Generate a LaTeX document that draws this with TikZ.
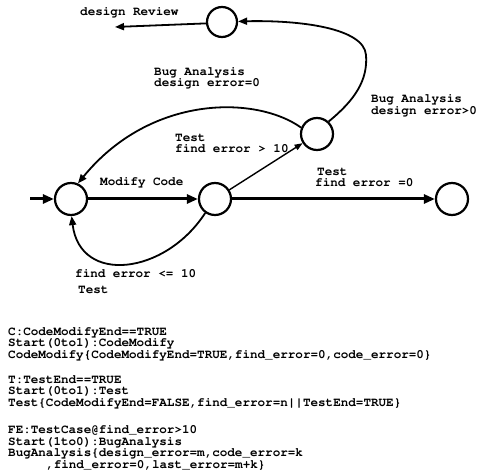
\documentclass[tikz,border=0pt]{standalone}
\usepackage[T1]{fontenc}
\usetikzlibrary{arrows.meta}
\begin{document}
\begin{tikzpicture}[x=1pt,y=-1pt,
  state/.style={draw, circle, line width=2.2pt, minimum size=32pt, inner sep=0pt},
  lbl/.style={font=\fontfamily{pcr}\bfseries\fontsize{12.6}{11.5}\selectfont, inner sep=0pt, align=left, anchor=west},
  thickarrow/.style={line width=3pt, -{Triangle[length=11pt,width=9pt]}},
  curvearrow/.style={line width=1.8pt, -{Triangle[length=9pt,width=7pt]}},
  thinarrow/.style={line width=1.4pt, -{Triangle[length=8pt,width=6pt]}}]
\useasboundingbox (0,0) rectangle (477,476);
% states
\node[state, minimum size=30pt] (top) at (222,22) {};
\node[state] (left) at (71,199) {};
\node[state] (mid) at (215,199) {};
\node[state] (right) at (452,199) {};
\node[state] (up) at (317,134) {};
\coordinate (in) at (30,199);
\coordinate (out) at (115,27);
% connectors
\draw[thickarrow] (in) -- (left);
\draw[thickarrow] (left) -- (mid);
\draw[thickarrow] (mid) -- (right);
\draw[thinarrow] (mid) -- (up);
\draw[curvearrow] (up.158) .. controls (255,95) and (150,95) .. (left.66);
\draw[curvearrow] (up.47) .. controls (355,100) and (368,80) .. (366,55) .. controls (364,28) and (300,20) .. (top.2);
\draw[curvearrow] (top.185) -- (out);
\draw[curvearrow] (mid.235) .. controls (165,275) and (80,285) .. (left.272);
% labels
\node[lbl] (l1) at (80,12) {design Review};
\node[lbl] (l2) at (154,77.5) {Bug Analysis\\design error=0};
\node[lbl] (l3) at (371,105) {Bug Analysis\\design error>0};
\node[lbl] (l4) at (175,143.5) {Test\\find error > 10};
\node[lbl] (l5) at (100,182) {Modify Code};
\node[lbl] (l6) at (315,177.5) {\hspace{2pt}Test\\find error =0};
\node[lbl] (l7) at (75,281) {find error <= 10\\[4.5pt]\hspace{3pt}Test};
% bottom text
\node[lbl] (b1) at (8,343.5) {C:CodeModifyEnd==TRUE\\Start(0to1):CodeModify\\CodeModify\{CodeModifyEnd=TRUE,find\_error=0,code\_error=0\}};
\node[lbl] (b2) at (8,392.5) {T:TestEnd==TRUE\\Start(0to1):Test\\Test\{CodeModifyEnd=FALSE,find\_error=n||TestEnd=TRUE\}};
\node[lbl] (b3) at (8,447.5) {FE:TestCase@find\_error>10\\Start(1to0):BugAnalysis\\BugAnalysis\{design\_error=m,code\_error=k\\\hspace{38pt},find\_error=0,last\_error=m+k\}};
\end{tikzpicture}
\end{document}
